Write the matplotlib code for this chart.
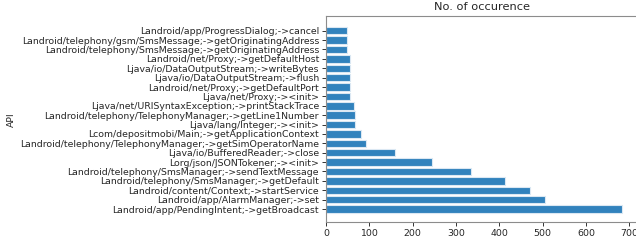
import matplotlib
matplotlib.use("Agg")
import matplotlib.pyplot as plt

apis = [
    "Landroid/app/PendingIntent;->getBroadcast",
    "Landroid/app/AlarmManager;->set",
    "Landroid/content/Context;->startService",
    "Landroid/telephony/SmsManager;->getDefault",
    "Landroid/telephony/SmsManager;->sendTextMessage",
    "Lorg/json/JSONTokener;-><init>",
    "Ljava/io/BufferedReader;->close",
    "Landroid/telephony/TelephonyManager;->getSimOperatorName",
    "Lcom/depositmobi/Main;->getApplicationContext",
    "Ljava/lang/Integer;-><init>",
    "Landroid/telephony/TelephonyManager;->getLine1Number",
    "Ljava/net/URISyntaxException;->printStackTrace",
    "Ljava/net/Proxy;-><init>",
    "Landroid/net/Proxy;->getDefaultPort",
    "Ljava/io/DataOutputStream;->flush",
    "Ljava/io/DataOutputStream;->writeBytes",
    "Landroid/net/Proxy;->getDefaultHost",
    "Landroid/telephony/SmsMessage;->getOriginatingAddress",
    "Landroid/telephony/gsm/SmsMessage;->getOriginatingAddress",
    "Landroid/app/ProgressDialog;->cancel",
]
counts = [684, 506, 470, 413, 334, 244, 160, 92, 80, 66, 66, 64, 55, 55, 55, 55, 55, 48, 48, 48]

text_color = "#262626"
spine_color = "#8c8c8c"

fig = plt.figure(figsize=(6.36, 2.43), dpi=100)
ax = fig.add_axes([326 / 636, 1 - 221.7 / 243, (638.5 - 326) / 636, (221.7 - 15.7) / 243])
ypos = list(range(len(apis)))
ax.barh(ypos, counts, height=0.8, color="#3182bd", edgecolor="#dbe8f3", linewidth=0.8)
ax.set_yticks(ypos)
ax.set_yticklabels(apis)
ax.set_ylim(-1.35, 20.6)
ax.set_xlim(0, 721)
ax.set_xticks([0, 100, 200, 300, 400, 500, 600, 700])
ax.tick_params(axis="both", labelsize=6.75, colors=text_color, length=3, width=0.7, pad=2)
ax.tick_params(axis="both", color="#333333")
for s in ax.spines.values():
    s.set_color(spine_color)
    s.set_linewidth(0.8)
ax.set_title("No. of occurence", fontsize=8.2, color=text_color, pad=4)
ax.set_ylabel("API", fontsize=6.75, color=text_color)
ax.yaxis.set_label_coords(-0.992, 0.494)
fig.savefig("out.png", dpi=100)
